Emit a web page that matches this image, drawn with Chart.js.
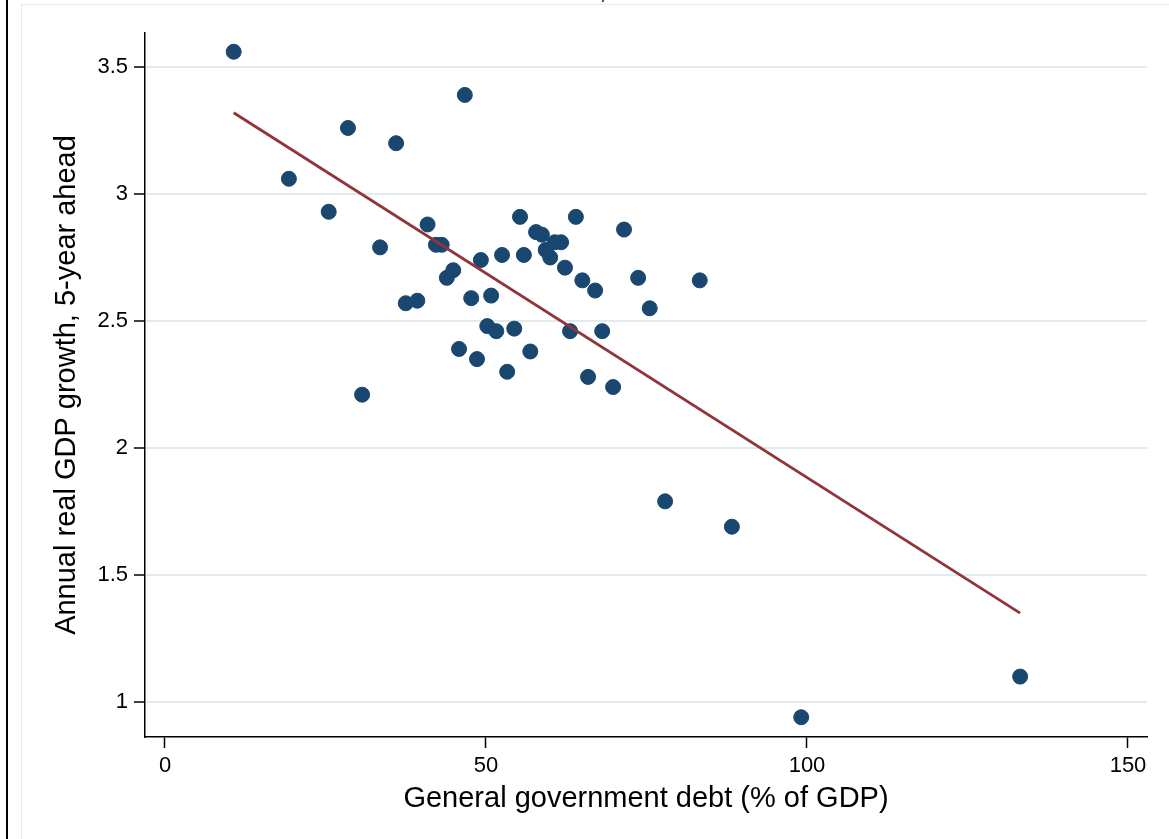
<!DOCTYPE html>
<html>
<head>
<meta charset="utf-8">
<title>Debt and growth</title>
<script src="https://cdn.jsdelivr.net/npm/chart.js@4/dist/chart.umd.min.js"></script>
<style>
  html, body { margin: 0; padding: 0; background: #ffffff; overflow: hidden; }
  #wrap { position: relative; width: 1169px; height: 839px; }
  canvas { display: block; }
</style>
</head>
<body>
<div id="wrap"><canvas id="chart" width="1169" height="839"></canvas></div>
<script>
// General government debt, % of GDP (one value per country)
const debtRatio = [
  10.7, 19.3, 25.5, 28.5, 30.7, 33.5, 36.0, 37.5, 39.3, 40.9,
  42.2, 43.1, 43.9, 44.9, 45.8, 46.7, 47.7, 48.6, 49.2, 50.2,
  50.8, 51.6, 52.5, 53.3, 54.4, 55.3, 55.9, 56.9, 57.8, 58.7,
  59.3, 60.0, 60.7, 61.7, 62.3, 63.1, 64.0, 65.0, 65.9, 67.0,
  68.1, 69.8, 71.5, 73.7, 75.5, 77.9, 83.3, 88.3, 99.1, 133.2
];
// Average annual real GDP growth over the next five years, %
const gdpGrowth5y = [
  3.56, 3.06, 2.93, 3.26, 2.21, 2.79, 3.20, 2.57, 2.58, 2.88,
  2.80, 2.80, 2.67, 2.70, 2.39, 3.39, 2.59, 2.35, 2.74, 2.48,
  2.60, 2.46, 2.76, 2.30, 2.47, 2.91, 2.76, 2.38, 2.85, 2.84,
  2.78, 2.75, 2.81, 2.81, 2.71, 2.46, 2.91, 2.66, 2.28, 2.62,
  2.46, 2.24, 2.86, 2.67, 2.55, 1.79, 2.66, 1.69, 0.94, 1.10
];
// Linear fit, evaluated at the smallest and largest debt ratio
const fitDebt = [10.7, 133.2];
const fitGrowth = [3.32, 1.35];

const xTickValues = [0, 50, 100, 150];
const xTickLabels = ['0', '50', '100', '150'];
const yTickValues = [1, 1.5, 2, 2.5, 3, 3.5];
const yTickLabels = ['1', '1.5', '2', '2.5', '3', '3.5'];

const xAxisTitle = 'General government debt (% of GDP)';
const yAxisTitle = 'Annual real GDP growth, 5-year ahead';

const FONT = '"Liberation Sans", Arial, Helvetica, sans-serif';
const NAVY = '#1a476f';
const MAROON = '#90353b';
const GRID = '#e1eaed';

const scatterPoints = debtRatio.map((d, i) => ({ x: d, y: gdpGrowth5y[i] }));
const fitPoints = fitDebt.map((d, i) => ({ x: d, y: fitGrowth[i] }));

// page frame: thin black rule on the left, a pale outer border and the
// tail of the heading's comma poking in at the top edge
const framePlugin = {
  id: 'frame',
  beforeDraw(chart) {
    const ctx = chart.ctx;
    ctx.save();
    ctx.fillStyle = '#ffffff';
    ctx.fillRect(0, 0, chart.width, chart.height);
    ctx.strokeStyle = '#e3ebee';
    ctx.lineWidth = 1;
    ctx.strokeRect(21.5, 4.5, chart.width + 50, chart.height + 50);
    ctx.fillStyle = '#000000';
    ctx.fillRect(6, 0, 2, chart.height);
    ctx.font = '29px ' + FONT;
    ctx.textBaseline = 'alphabetic';
    ctx.textAlign = 'center';
    ctx.fillStyle = '#333333';
    ctx.fillText(',', 603, -2);
    ctx.restore();
  }
};

new Chart(document.getElementById('chart'), {
  type: 'scatter',
  data: {
    datasets: [
      {
        type: 'line',
        label: 'Fitted values',
        data: fitPoints,
        borderColor: MAROON,
        borderWidth: 2.8,
        pointRadius: 0,
        fill: false,
        tension: 0,
        order: 0
      },
      {
        label: 'Growth',
        data: scatterPoints,
        backgroundColor: NAVY,
        borderColor: NAVY,
        borderWidth: 1,
        pointRadius: 7.5,
        pointHoverRadius: 7.5,
        order: 1
      }
    ]
  },
  options: {
    responsive: false,
    animation: false,
    devicePixelRatio: 1,
    layout: { padding: { left: 0, right: 22, top: 33, bottom: 0 } },
    plugins: {
      legend: { display: false },
      tooltip: { enabled: false }
    },
    scales: {
      x: {
        type: 'linear',
        min: -3.115,
        max: 152.96,
        afterBuildTicks: s => { s.ticks = xTickValues.map(v => ({ value: v })); },
        afterFit: s => { s.height = 102; },
        grid: {
          drawOnChartArea: false,
          drawTicks: true,
          tickLength: 11,
          tickColor: '#000000',
          tickWidth: 1.5
        },
        border: { display: true, color: '#000000', width: 1.5 },
        ticks: {
          padding: 5,
          color: '#000000',
          maxRotation: 0,
          autoSkip: false,
          font: { family: FONT, size: 22 },
          callback: (v, i) => xTickLabels[i]
        },
        title: {
          display: true,
          text: xAxisTitle,
          color: '#000000',
          font: { family: FONT, size: 29 },
          padding: { top: 0, bottom: 23 }
        }
      },
      y: {
        type: 'linear',
        min: 0.8622,
        max: 3.6339,
        afterBuildTicks: s => { s.ticks = yTickValues.map(v => ({ value: v })); },
        afterFit: s => { s.width = 145; },
        grid: {
          color: GRID,
          lineWidth: 2,
          drawTicks: true,
          tickLength: 11,
          tickColor: '#000000',
          tickWidth: 1.5
        },
        border: { display: true, color: '#000000', width: 1.5 },
        ticks: {
          padding: 6,
          color: '#000000',
          font: { family: FONT, size: 22 },
          callback: (v, i) => yTickLabels[i]
        },
        title: {
          display: true,
          text: yAxisTitle,
          color: '#000000',
          font: { family: FONT, size: 29 },
          padding: { top: 50, bottom: 0 }
        }
      }
    }
  },
  plugins: [framePlugin]
});
</script>
</body>
</html>
